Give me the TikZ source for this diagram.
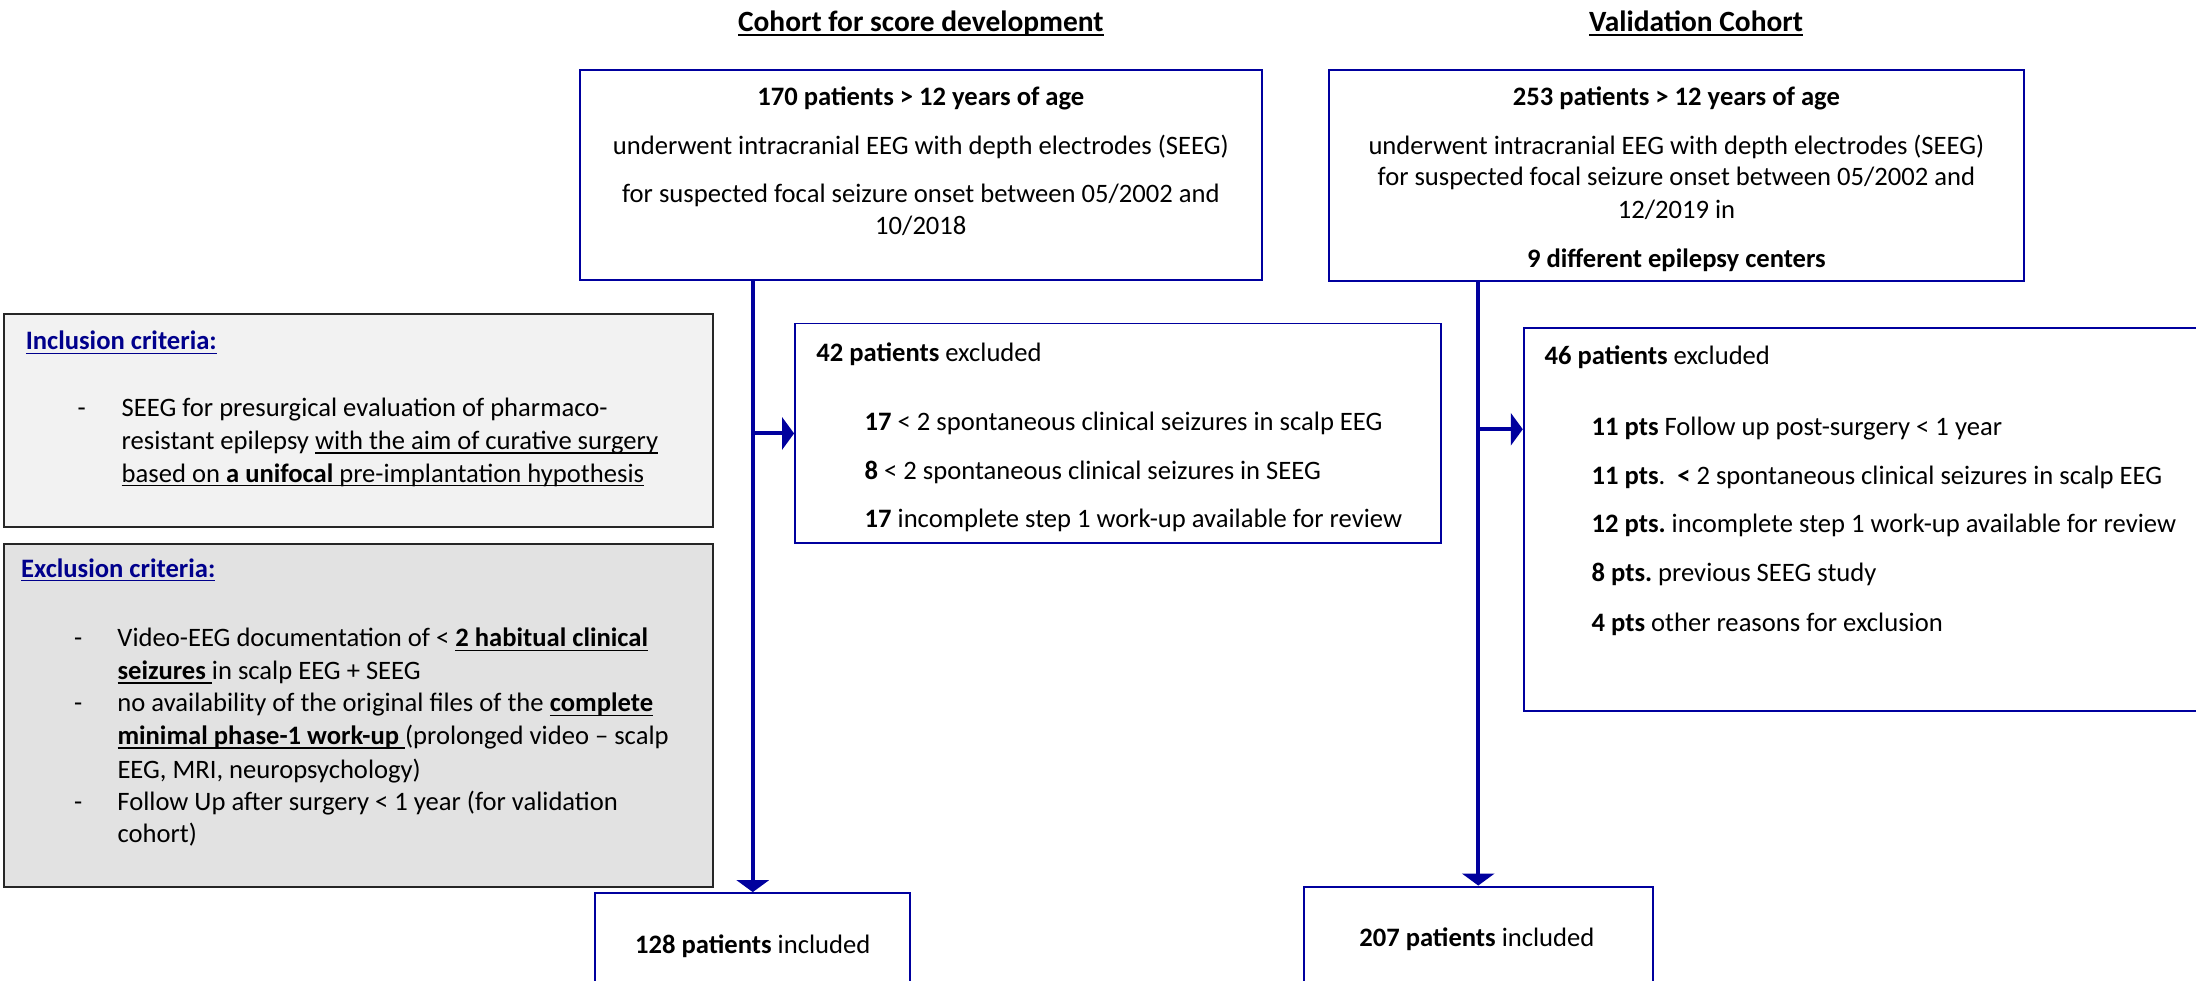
\documentclass[tikz,border=0pt]{standalone}
\usepackage{fontspec}
\setmainfont{Carlito}
\usetikzlibrary{arrows.meta}
\definecolor{flowblue}{RGB}{0,0,158}
\definecolor{headblue}{RGB}{0,0,140}
\definecolor{inclgray}{RGB}{242,242,242}
\definecolor{exclgray}{RGB}{226,226,226}
\newsavebox\undlbox
\newcommand{\undl}[1]{\sbox\undlbox{#1}\rlap{\rule[-1.5pt]{\wd\undlbox}{0.5pt}}\usebox\undlbox}
\tikzstyle{cohortbox}=[draw=flowblue,line width=0.7pt,inner sep=0pt]
\tikzstyle{critbox}=[draw=black!85,line width=0.8pt,inner sep=0pt]
\tikzstyle{txt}=[inner sep=0pt,font=\fontsize{9.5}{11.5}\selectfont]
\tikzstyle{headline}=[inner sep=0pt,font=\fontsize{10.5}{12.5}\selectfont\bfseries]
\tikzstyle{flow}=[draw=flowblue,line width=1.4pt,-{Triangle[width=11.5pt,length=4.3pt]}]

\begin{document}
\frenchspacing
\begin{tikzpicture}[x=0.5pt,y=-0.5pt]
    \useasboundingbox (0,0) rectangle (1568,700);
    % boxes
    \node[cohortbox,minimum width=243.5pt,minimum height=75pt] (dev) at (657.5,125) {};
    \node[cohortbox,minimum width=248pt,minimum height=75.3pt] (val) at (1197,125.3) {};
    \node[critbox,fill=inclgray,minimum width=253pt,minimum height=76.2pt] (incl) at (256,300.2) {};
    \node[critbox,fill=exclgray,minimum width=253pt,minimum height=122.5pt] (excl) at (256,511) {};
    \node[cohortbox,minimum width=230.7pt,minimum height=78.5pt] (exdev) at (798.4,309.5) {};
    \node[cohortbox,minimum width=276pt,minimum height=136.6pt] (exval) at (1364,370.9) {};
    \node[cohortbox,minimum width=112.5pt,minimum height=61.2pt] (indev) at (537.5,698.9) {};
    \node[cohortbox,minimum width=124.5pt,minimum height=63.5pt] (inval) at (1055.5,696.5) {};

    % titles
    \node[headline,anchor=base] (devtitle) at (657.5,22.5) {\undl{Cohort for score development}};
    \node[headline,anchor=base] (valtitle) at (1211,22.5) {\undl{Validation Cohort}};

    % development cohort
    \node[txt,anchor=base] (devhead) at (657.5,75.2) {\textbf{170 patients > 12 years of age}};
    \node[txt,anchor=base] (devseeg) at (657.5,110.2) {underwent intracranial EEG with depth electrodes (SEEG)};
    \node[txt,anchor=base] (devonset) at (657.5,144.3) {for suspected focal seizure onset between 05/2002 and};
    \node[txt,anchor=base] (devdate) at (657.5,167.4) {10/2018};

    % validation cohort
    \node[txt,anchor=base] (valhead) at (1197,75.2) {\textbf{253 patients > 12 years of age}};
    \node[txt,anchor=base] (valseeg) at (1197,110.2) {underwent intracranial EEG with depth electrodes (SEEG)};
    \node[txt,anchor=base] (valonset) at (1197,132.8) {for suspected focal seizure onset between 05/2002 and};
    \node[txt,anchor=base] (valdate) at (1197,155.9) {12/2019 in};
    \node[txt,anchor=base] (valcenters) at (1197,191.2) {\textbf{9 different epilepsy centers}};

    % criteria
    \node[txt,anchor=base west,text=headblue] (inclhead) at (18,249.8) {\undl{\textbf{Inclusion criteria:}}};
    \node[txt,anchor=base west] (incla) at (55,297.7) {\makebox[15.75pt][l]{-}SEEG for presurgical evaluation of pharmaco-};
    \node[txt,anchor=base west] (inclb) at (86.5,320.9) {resistant epilepsy \undl{with the aim of curative surgery}};
    \node[txt,anchor=base west] (inclc) at (86.5,344.2) {\undl{based on \textbf{a unifocal} pre-implantation hypothesis}};

    \node[txt,anchor=base west,text=headblue] (exclhead) at (14.7,412) {\undl{\textbf{Exclusion criteria:}}};
    \node[txt,anchor=base west] (excla) at (52.5,461.8) {\makebox[15.5pt][l]{-}Video-EEG documentation of < \undl{\textbf{2 habitual clinical}}};
    \node[txt,anchor=base west] (exclb) at (83.5,485.1) {\undl{\textbf{seizures} }in scalp EEG + SEEG};
    \node[txt,anchor=base west] (exclc) at (52.5,508.3) {\makebox[15.5pt][l]{-}no availability of the original files of the \undl{\textbf{complete}}};
    \node[txt,anchor=base west] (excld) at (83.5,531.6) {\undl{\textbf{minimal phase-1 work-up} }(prolonged video – scalp};
    \node[txt,anchor=base west] (excle) at (83.5,555.7) {EEG, MRI, neuropsychology)};
    \node[txt,anchor=base west] (exclf) at (52.5,578.6) {\makebox[15.5pt][l]{-}Follow Up after surgery < 1 year (for validation};
    \node[txt,anchor=base west] (exclg) at (83.5,601.9) {cohort)};

    % excluded patients
    \node[txt,anchor=base west] (exdevhead) at (582.5,257.8) {\textbf{42 patients} excluded};
    \node[txt,anchor=base west] (exdeva) at (617,307.3) {\textbf{17} < 2 spontaneous clinical seizures in scalp EEG};
    \node[txt,anchor=base west] (exdevb) at (617,342.3) {\textbf{8} < 2 spontaneous clinical seizures in SEEG};
    \node[txt,anchor=base west] (exdevc) at (617,376.8) {\textbf{17} incomplete step 1 work-up available for review};

    \node[txt,anchor=base west] (exvalhead) at (1102.5,260.2) {\textbf{46 patients} excluded};
    \node[txt,anchor=base west] (exvala) at (1136,310.9) {\textbf{11 pts} Follow up post-surgery < 1 year};
    \node[txt,anchor=base west] (exvalb) at (1136,345.9) {\textbf{11 pts}.\ \ \textbf{<} 2 spontaneous clinical seizures in scalp EEG};
    \node[txt,anchor=base west] (exvalc) at (1136,380.4) {\textbf{12 pts.} incomplete step 1 work-up available for review};
    \node[txt,anchor=base west] (exvald) at (1136,415.4) {\textbf{8 pts.} previous SEEG study};
    \node[txt,anchor=base west] (exvale) at (1136,450.6) {\textbf{4 pts} other reasons for exclusion};

    % included patients
    \node[txt,anchor=base] (indevtext) at (537.5,680.5) {\textbf{128 patients} included};
    \node[txt,anchor=base] (invaltext) at (1054.5,675.5) {\textbf{207 patients} included};

    % flow
    \coordinate (devfoot) at (dev.south -| indev.north);
    \coordinate (devjoin) at (exdev.west -| indev.north);
    \coordinate (valfoot) at (val.south -| inval.north);
    \coordinate (valjoin) at (1055.5,306.5);
    \coordinate (valside) at (valjoin -| exval.west);
    \foreach \from/\to in {devfoot/indev.north,devjoin/exdev.west,valfoot/inval.north,valjoin/valside}
    \draw[flow] (\from) -- (\to);
\end{tikzpicture}
\end{document}
